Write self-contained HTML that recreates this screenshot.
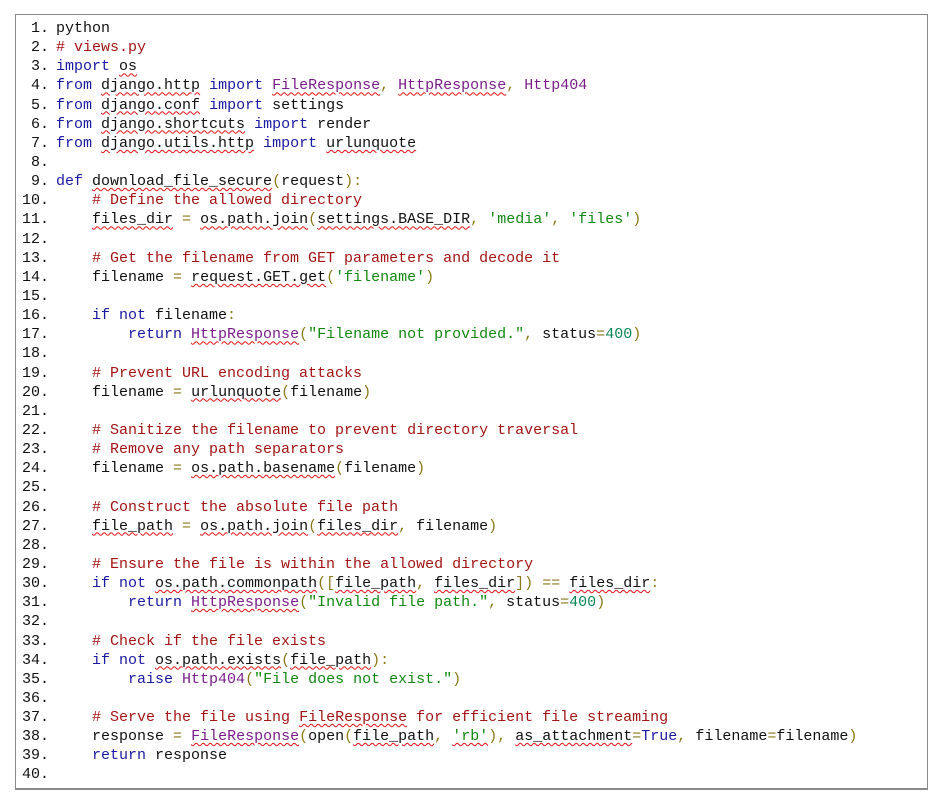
<!DOCTYPE html>
<html><head><meta charset="utf-8"><style>
body{margin:0;background:#fff;width:936px;height:796px;overflow:hidden}
.box{position:absolute;left:15px;top:14px;width:913px;height:776px;border:1px solid #8a8a8a;border-bottom:2px solid #8a8a8a;box-sizing:border-box}
.code{position:absolute;left:0;top:19px;font-family:"Liberation Mono",monospace;font-size:15px;line-height:19.15px;color:#111}
.l{height:19.15px;white-space:pre}
.num{display:inline-block;width:49px;text-align:right;padding-right:7px;color:#111}
.k{color:#1a1aa0}.c{color:#a31515}.s{color:#118811}.n{color:#098658}.p{color:#7a1e8a}.o{color:#8a7a1a}
.u{text-decoration:underline wavy #e01010;text-decoration-thickness:1px;text-underline-offset:2px}
</style></head><body>
<div class="box"></div>
<div class="code">
<div class="l"><span class="num">1.</span>python</div>
<div class="l"><span class="num">2.</span><span class="c"># views.py</span></div>
<div class="l"><span class="num">3.</span><span class="k">import</span> <span class="u">os</span></div>
<div class="l"><span class="num">4.</span><span class="k">from</span> <span class="u">django.http</span> <span class="k">import</span> <span class="p u">FileResponse</span><span class="o">,</span> <span class="p u">HttpResponse</span><span class="o">,</span> <span class="p">Http404</span></div>
<div class="l"><span class="num">5.</span><span class="k">from</span> <span class="u">django.conf</span> <span class="k">import</span> settings</div>
<div class="l"><span class="num">6.</span><span class="k">from</span> <span class="u">django.shortcuts</span> <span class="k">import</span> render</div>
<div class="l"><span class="num">7.</span><span class="k">from</span> <span class="u">django.utils.http</span> <span class="k">import</span> <span class="u">urlunquote</span></div>
<div class="l"><span class="num">8.</span></div>
<div class="l"><span class="num">9.</span><span class="k">def</span> <span class="u">download_file_secure</span><span class="o">(</span>request<span class="o">):</span></div>
<div class="l"><span class="num">10.</span>    <span class="c"># Define the allowed directory</span></div>
<div class="l"><span class="num">11.</span>    <span class="u">files_dir</span> <span class="o">=</span> <span class="u">os.path.join</span><span class="o">(</span><span class="u">settings.BASE_DIR</span><span class="o">,</span> <span class="s">'media'</span><span class="o">,</span> <span class="s">'files'</span><span class="o">)</span></div>
<div class="l"><span class="num">12.</span></div>
<div class="l"><span class="num">13.</span>    <span class="c"># Get the filename from GET parameters and decode it</span></div>
<div class="l"><span class="num">14.</span>    filename <span class="o">=</span> <span class="u">request.GET.get</span><span class="o">(</span><span class="s">'filename'</span><span class="o">)</span></div>
<div class="l"><span class="num">15.</span></div>
<div class="l"><span class="num">16.</span>    <span class="k">if not</span> filename<span class="o">:</span></div>
<div class="l"><span class="num">17.</span>        <span class="k">return</span> <span class="p u">HttpResponse</span><span class="o">(</span><span class="s">"Filename not provided."</span><span class="o">,</span> status<span class="o">=</span><span class="n">400</span><span class="o">)</span></div>
<div class="l"><span class="num">18.</span></div>
<div class="l"><span class="num">19.</span>    <span class="c"># Prevent URL encoding attacks</span></div>
<div class="l"><span class="num">20.</span>    filename <span class="o">=</span> <span class="u">urlunquote</span><span class="o">(</span>filename<span class="o">)</span></div>
<div class="l"><span class="num">21.</span></div>
<div class="l"><span class="num">22.</span>    <span class="c"># Sanitize the filename to prevent directory traversal</span></div>
<div class="l"><span class="num">23.</span>    <span class="c"># Remove any path separators</span></div>
<div class="l"><span class="num">24.</span>    filename <span class="o">=</span> <span class="u">os.path.basename</span><span class="o">(</span>filename<span class="o">)</span></div>
<div class="l"><span class="num">25.</span></div>
<div class="l"><span class="num">26.</span>    <span class="c"># Construct the absolute file path</span></div>
<div class="l"><span class="num">27.</span>    <span class="u">file_path</span> <span class="o">=</span> <span class="u">os.path.join</span><span class="o">(</span><span class="u">files_dir</span><span class="o">,</span> filename<span class="o">)</span></div>
<div class="l"><span class="num">28.</span></div>
<div class="l"><span class="num">29.</span>    <span class="c"># Ensure the file is within the allowed directory</span></div>
<div class="l"><span class="num">30.</span>    <span class="k">if not</span> <span class="u">os.path.commonpath</span><span class="o">([</span><span class="u">file_path</span><span class="o">,</span> <span class="u">files_dir</span><span class="o">])</span> <span class="o">==</span> <span class="u">files_dir</span><span class="o">:</span></div>
<div class="l"><span class="num">31.</span>        <span class="k">return</span> <span class="p u">HttpResponse</span><span class="o">(</span><span class="s">"Invalid file path."</span><span class="o">,</span> status<span class="o">=</span><span class="n">400</span><span class="o">)</span></div>
<div class="l"><span class="num">32.</span></div>
<div class="l"><span class="num">33.</span>    <span class="c"># Check if the file exists</span></div>
<div class="l"><span class="num">34.</span>    <span class="k">if not</span> <span class="u">os.path.exists</span><span class="o">(</span><span class="u">file_path</span><span class="o">):</span></div>
<div class="l"><span class="num">35.</span>        <span class="k">raise</span> <span class="p">Http404</span><span class="o">(</span><span class="s">"File does not exist."</span><span class="o">)</span></div>
<div class="l"><span class="num">36.</span></div>
<div class="l"><span class="num">37.</span>    <span class="c"># Serve the file using <span class="u">FileResponse</span> for efficient file streaming</span></div>
<div class="l"><span class="num">38.</span>    response <span class="o">=</span> <span class="p u">FileResponse</span><span class="o">(</span>open<span class="o">(</span><span class="u">file_path</span><span class="o">,</span> <span class="s u">'rb'</span><span class="o">),</span> <span class="u">as_attachment</span><span class="o">=</span><span class="k">True</span><span class="o">,</span> filename<span class="o">=</span>filename<span class="o">)</span></div>
<div class="l"><span class="num">39.</span>    <span class="k">return</span> response</div>
<div class="l"><span class="num">40.</span></div>
</div>
</body></html>
